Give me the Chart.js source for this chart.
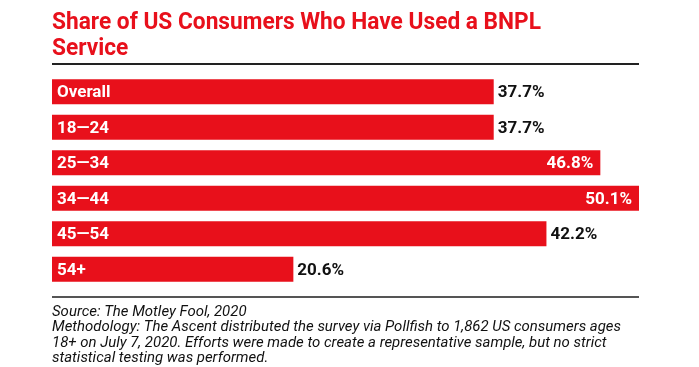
<!DOCTYPE html>
<html>
<head>
<meta charset="utf-8">
<script src="https://cdn.jsdelivr.net/npm/chart.js@4/dist/chart.umd.min.js"></script>
<style>
  html, body { margin: 0; padding: 0; background: #fff; }
  #wrap { width: 699px; height: 367px; position: relative; }
</style>
</head>
<body>
<div id="wrap"><canvas id="chart"></canvas></div>
<script>
const categories = ["Overall", "18\u201424", "25\u201434", "34\u201444", "45\u201454", "54+"]
const shares = [37.7, 37.7, 46.8, 50.1, 42.2, 20.6]

const titleLines = ["Share of US Consumers Who Have Used a BNPL", "Service"]
const footerLines = [
  "Source: The Motley Fool, 2020",
  "Methodology: The Ascent distributed the survey via Pollfish to 1,862 US consumers ages",
  "18+ on July 7, 2020. Efforts were made to create a representative sample, but no strict",
  "statistical testing was performed."
]

const RED = "#e8101b"
const FONT = "Roboto, 'Liberation Sans', sans-serif"

// draw lines of text fitted so the widest one is maxWidth wide
function drawBlock(ctx, lines, x, y, step, maxWidth) {
  const widest = Math.max(...lines.map(l => ctx.measureText(l).width))
  const sx = maxWidth / widest
  lines.forEach((line, i) => {
    ctx.save()
    ctx.translate(x, y + i * step)
    ctx.scale(sx, 1)
    ctx.fillText(line, 0, 0)
    ctx.restore()
  })
}

// title, rules, footer and bar labels
const decorations = {
  id: "decorations",
  afterDraw(chart) {
    const ctx = chart.ctx
    const area = chart.chartArea
    ctx.save()

    ctx.fillStyle = RED
    ctx.font = "bold 24px " + FONT
    ctx.textBaseline = "alphabetic"
    ctx.textAlign = "left"
    drawBlock(ctx, titleLines, area.left, 29, 26, 489)

    ctx.strokeStyle = "#222"
    ctx.lineWidth = 2
    ctx.beginPath()
    ctx.moveTo(area.left, 64); ctx.lineTo(area.right, 64)
    ctx.stroke()
    ctx.strokeStyle = "#555"
    ctx.beginPath()
    ctx.moveTo(area.left, 297); ctx.lineTo(area.right, 297)
    ctx.stroke()

    ctx.fillStyle = "#111"
    ctx.font = "italic 15px " + FONT
    drawBlock(ctx, footerLines, area.left, 316, 15.3, 569)

    // labels on the bars
    const meta = chart.getDatasetMeta(0)
    ctx.textBaseline = "middle"
    meta.data.forEach((bar, i) => {
      ctx.font = "bold 17px " + FONT
      ctx.fillStyle = "#fff"
      ctx.textAlign = "left"
      ctx.fillText(categories[i], bar.base + 5, bar.y + 1)

      const txt = shares[i].toFixed(1) + "%"
      if (shares[i] > 45) {
        ctx.textAlign = "right"
        ctx.fillStyle = "#fff"
        ctx.fillText(txt, bar.x - 7, bar.y + 1)
      } else {
        ctx.textAlign = "left"
        ctx.fillStyle = "#111"
        ctx.fillText(txt, bar.x + 4, bar.y + 1)
      }
    })
    ctx.restore()
  }
}

new Chart(document.getElementById("chart"), {
  type: "bar",
  data: {
    labels: categories,
    datasets: [{
      data: shares,
      backgroundColor: RED,
      borderWidth: 0,
      barPercentage: 0.7,
      categoryPercentage: 1
    }]
  },
  options: {
    indexAxis: "y",
    responsive: true,
    maintainAspectRatio: false,
    animation: false,
    layout: { padding: { left: 52, right: 60, top: 74, bottom: 80 } },
    scales: {
      x: { display: false, min: 0, max: 50.1 },
      y: { display: false }
    },
    plugins: {
      legend: { display: false },
      tooltip: { enabled: false }
    }
  },
  plugins: [decorations]
})
</script>
</body>
</html>
